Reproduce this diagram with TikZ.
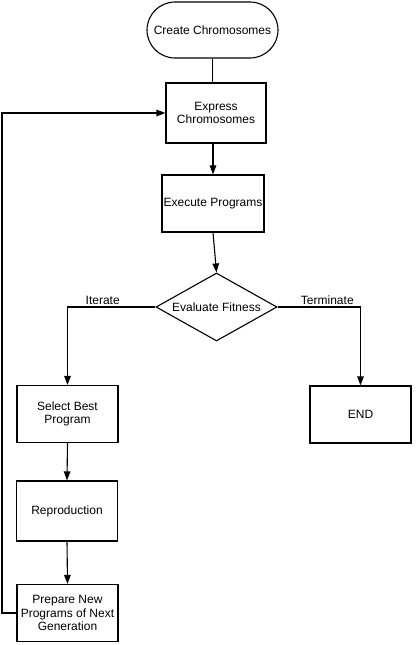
\documentclass[tikz,border=0pt]{standalone}
\usepackage{fontspec}
\setmainfont{Liberation Sans}
\usetikzlibrary{arrows.meta,shapes.geometric}
\tikzset{
  flowbox/.style={draw,line width=1.1pt,rectangle,minimum width=101pt,minimum height=57pt,
                  align=center,inner sep=1pt,font=\fontsize{12}{13.5}\selectfont},
  startbox/.style={flowbox,rounded corners=28pt,minimum width=131pt,minimum height=56pt},
  decide/.style={draw,line width=1.1pt,diamond,shape aspect=1.78,inner sep=0pt,
                 minimum width=121pt,minimum height=68pt,font=\fontsize{12}{13.5}\selectfont},
  flowline/.style={line width=1.1pt},
  flowarrow/.style={flowline,-{Triangle[length=9pt,width=6.5pt]}},
  branchlabel/.style={above,inner sep=1.5pt,font=\fontsize{12}{13.5}\selectfont}
}
\begin{document}
\begin{tikzpicture}[x=1pt,y=-1pt]
\useasboundingbox (0,0) rectangle (415,645);
%boxes
\node[startbox] (create) at (212.5,30) {Create Chromosomes};
\node[flowbox,minimum width=100pt,minimum height=60pt] (express) at (216,113) {Express\\Chromosomes};
\node[flowbox,minimum width=102pt] (execute) at (213,203.5) {Execute Programs};
\node[decide] (fitness) at (216.5,307) {Evaluate Fitness};
\node[flowbox] (select) at (67.5,414) {Select Best\\Program};
\node[flowbox] (finish) at (360.5,414.5) {END};
\node[flowbox,minimum height=60pt] (repro) at (67,511) {Reproduction};
\node[flowbox] (prepare) at (67.5,613) {Prepare New\\Programs of Next\\Generation};
\coordinate (back) at (2,113);
%connectors
\draw[flowline] (create.south) -- (create.south |- express.north);
\draw[flowarrow] (execute.north |- express.south) -- (execute.north);
\draw[flowarrow] (execute.south) -- (fitness.north);
\draw[flowarrow] (fitness.west) -| node[branchlabel,pos=0.3]{Iterate} (select.north);
\draw[flowarrow] (fitness.east) -| node[branchlabel,pos=0.3]{Terminate} (finish.north);
\draw[flowarrow] (select.south) -- (repro.north);
\draw[flowarrow] (repro.south) -- (prepare.north);
\draw[flowarrow] (prepare.west) -| (back) -- (express.west);
\end{tikzpicture}
\end{document}
